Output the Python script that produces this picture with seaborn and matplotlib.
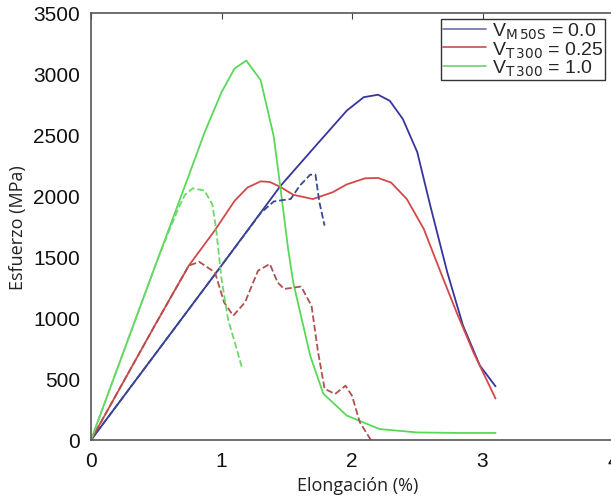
import matplotlib
matplotlib.use("Agg")
import matplotlib.pyplot as plt
import seaborn as sns
import pandas as pd
from matplotlib.lines import Line2D

# ---- data ----
blue_x = [0, 1.0, 1.45, 1.7, 1.96, 2.09, 2.2, 2.29, 2.39, 2.5, 2.6, 2.73, 2.85, 2.98, 3.1]
blue_y = [0, 1430, 2080, 2385, 2700, 2810, 2830, 2780, 2630, 2360, 1920, 1375, 940, 610, 440]

red_x = [0, 0.5, 0.75, 0.95, 1.1, 1.2, 1.3, 1.37, 1.45, 1.55, 1.7, 1.85, 1.96, 2.1, 2.2,
         2.3, 2.42, 2.55, 2.67, 2.8, 2.93, 3.1]
red_y = [0, 960, 1430, 1720, 1960, 2070, 2120, 2115, 2075, 2010, 1975, 2030, 2095, 2145, 2148,
         2110, 1975, 1730, 1400, 1050, 720, 340]

green_x = [0, 0.5, 0.75, 0.87, 1.0, 1.1, 1.19, 1.3, 1.4, 1.45, 1.51, 1.55, 1.68, 1.78, 1.96,
           2.21, 2.5, 2.8, 3.1]
green_y = [0, 1450, 2170, 2520, 2850, 3045, 3110, 2950, 2490, 2080, 1570, 1290, 690, 380, 200,
           90, 62, 58, 58]

blue_d_x = [0, 1.0, 1.3, 1.4, 1.46, 1.53, 1.6, 1.68, 1.72, 1.75, 1.79]
blue_d_y = [0, 1430, 1860, 1955, 1965, 1975, 2085, 2175, 2175, 1950, 1757]

red_d_x = [0, 0.5, 0.75, 0.83, 0.95, 1.02, 1.09, 1.18, 1.28, 1.37, 1.43, 1.48, 1.61, 1.69,
           1.74, 1.79, 1.87, 1.95, 2.0, 2.06, 2.14, 2.2]
red_d_y = [0, 960, 1430, 1460, 1374, 1128, 1019, 1128, 1388, 1443, 1292, 1238, 1258, 1100,
           720, 420, 377, 445, 363, 145, 8, -40]

green_d_x = [0, 0.5, 0.6, 0.67, 0.72, 0.78, 0.87, 0.93, 0.96, 1.0, 1.05, 1.11, 1.16]
green_d_y = [0, 1450, 1720, 1900, 2010, 2063, 2044, 1930, 1720, 1320, 990, 770, 580]

labels = [r"V$_{\rm M\,50S}$ = 0.0", r"V$_{\rm T\,300}$ = 0.25", r"V$_{\rm T\,300}$ = 1.0"]
xticks = [0, 1, 2, 3, 4]
yticks = [0, 500, 1000, 1500, 2000, 2500, 3000, 3500]

sns.set_theme(style="white")
plt.rcParams["font.family"] = ["Liberation Sans", "DejaVu Sans"]

fig = plt.figure(figsize=(6.11, 5.02), dpi=100)
ax = fig.add_axes([91 / 611, 61 / 502, 522 / 611, 427 / 502])

c_blue, c_red, c_green = "#35359e", "#d44848", "#5ad85a"
c_blue_d, c_red_d, c_green_d = "#3a4a8c", "#b05050", "#6cd86c"

series = [
    (blue_x, blue_y, c_blue, "-"),
    (red_x, red_y, c_red, "-"),
    (green_x, green_y, c_green, "-"),
    (blue_d_x, blue_d_y, c_blue_d, "--"),
    (red_d_x, red_d_y, c_red_d, "--"),
    (green_d_x, green_d_y, c_green_d, "--"),
]
for xs, ys, col, ls in series:
    df = pd.DataFrame({"x": xs, "y": ys})
    kw = dict(dashes=(4.5, 3.5)) if ls == "--" else {}
    sns.lineplot(data=df, x="x", y="y", ax=ax, color=col, linewidth=1.3,
                 estimator=None, sort=False, linestyle=ls, **kw)

ax.set_xlim(0, 4)
ax.set_ylim(0, 3500)
ax.set_xticks(xticks)
ax.set_yticks(yticks)
ax.tick_params(direction="in", length=4, width=0.8, color="#444444",
               top=True, right=False, labelsize=15, labelcolor="#111111")
ax.tick_params(axis="y", pad=8)
ax.tick_params(axis="x", pad=8)
for s in ax.spines.values():
    s.set_color("#555555")
    s.set_linewidth(1.2)

ax.set_xlabel("Elongación (%)", fontsize=13, family="Open Sans", color="#222222", labelpad=4)
ax.set_ylabel("Esfuerzo (MPa)", fontsize=13, family="Open Sans", color="#222222", labelpad=4)
ax.xaxis.set_label_coords(0.51, -0.085)

handles = [Line2D([], [], color=c, lw=1.3) for c in ("#7777bb", "#c06060", "#77d877")]
leg = ax.legend(handles, labels, loc="upper left",
                bbox_to_anchor=(441 / 611, 1 - 20 / 502), bbox_transform=fig.transFigure,
                fontsize=14, frameon=True, fancybox=False, framealpha=1,
                borderpad=0.1, labelspacing=-0.1, handlelength=2.2, handletextpad=0.3,
                borderaxespad=0)
leg.get_frame().set_edgecolor("#333333")
leg.get_frame().set_linewidth(1.0)

fig.savefig("out.png", dpi=100)
